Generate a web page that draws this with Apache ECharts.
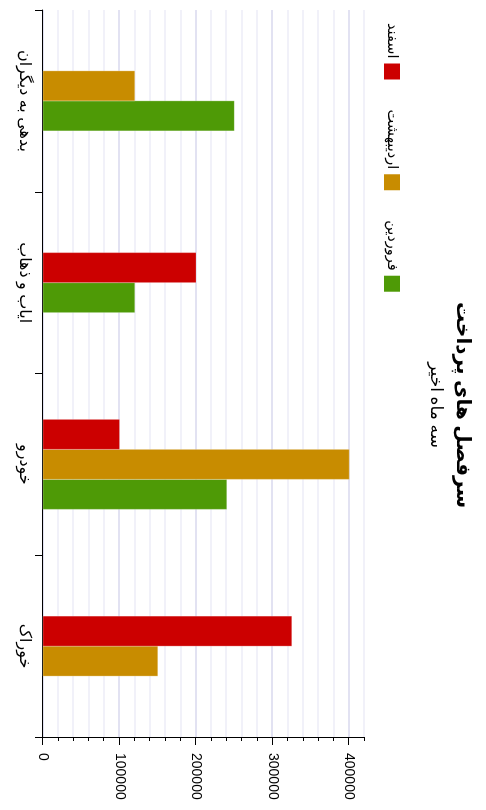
<!DOCTYPE html>
<html>
<head>
<meta charset="utf-8">
<script src="https://cdn.jsdelivr.net/npm/echarts@6/dist/echarts.min.js"></script>
<style>
html,body{margin:0;padding:0;background:#fff;overflow:hidden;width:486px;height:810px;}
#wrap{position:absolute;left:0;top:0;width:810px;height:486px;transform-origin:0 0;transform:translate(486px,0) rotate(90deg);}
#chart{width:810px;height:486px;}
</style>
</head>
<body>
<div id="wrap"><div id="chart"></div></div>
<script>
// ---- data ----
var categories = ['خوراک', 'خودرو', 'ایاب و ذهاب', 'بدهی به دیگران'];
var seriesNames = ['فروردین', 'اردیبهشت', 'اسفند'];
var farvardin   = [null, 240000, 120000, 250000];
var ordibehesht = [150000, 400000, null, 120000];
var esfand      = [325000, 100000, 200000, null];
var valueTicks  = [0, 100000, 200000, 300000, 400000];
var titleText = 'سرفصل های پرداخت';
var subtitleText = 'سه ماه اخیر';
// ------------------

var seriesValues = { 'فروردین': farvardin, 'اردیبهشت': ordibehesht, 'اسفند': esfand };
var seriesColors = { 'فروردین': '#4e9a06', 'اردیبهشت': '#c88c00', 'اسفند': '#cc0000' };
// left-to-right pixel order inside a category group
var slotOrder = ['اسفند', 'اردیبهشت', 'فروردین'];
var FONT = "'Liberation Sans', 'DejaVu Sans', sans-serif";

function makeRender(name) {
  return function (params, api) {
    var ci = api.value(0), val = api.value(1);
    var present = slotOrder.filter(function (s) { var v = seriesValues[s][ci]; return v != null && v > 0; });
    var k = present.indexOf(name);
    var catW = api.size([1, 0])[0];
    var bw = catW * 0.165;
    var center = api.coord([ci, 0])[0];
    var start = center - present.length * bw / 2;
    var base = api.coord([ci, 0])[1];
    var top = api.coord([ci, val])[1];
    return {
      type: 'rect',
      shape: { x: start + k * bw, y: top, width: bw, height: base - top },
      style: { fill: seriesColors[name], stroke: 'rgba(255,255,255,0.25)', lineWidth: 1 }
    };
  };
}

var series = seriesNames.map(function (name) {
  var data = [];
  seriesValues[name].forEach(function (v, i) { if (v != null) data.push([i, v]); });
  return {
    type: 'custom',
    name: name,
    xAxisIndex: 0,
    yAxisIndex: 0,
    itemStyle: { color: seriesColors[name] },
    encode: { x: 0, y: 1 },
    renderItem: makeRender(name),
    data: data
  };
});

var chart = echarts.init(document.getElementById('chart'));
chart.setOption({
  animation: false,
  backgroundColor: '#fff',
  textStyle: { fontFamily: FONT },
  title: {
    text: titleText,
    subtext: subtitleText,
    left: 'center',
    top: 8,
    itemGap: 9,
    textStyle: { fontSize: 20, fontWeight: 'bold', color: '#000', fontFamily: FONT },
    subtextStyle: { fontSize: 17, color: '#000', fontFamily: FONT }
  },
  legend: {
    data: ['اسفند', 'اردیبهشت', 'فروردین'],
    left: 18,
    top: 81,
    align: 'right',
    icon: 'rect',
    itemWidth: 16,
    itemHeight: 16,
    itemGap: 30,
    textStyle: { fontSize: 14.5, color: '#000', fontFamily: FONT }
  },
  grid: { left: 10, right: 73, top: 121.5, bottom: 43, containLabel: false },
  xAxis: {
    type: 'category',
    data: categories,
    inverse: true,
    axisLine: { lineStyle: { color: '#000', width: 1 } },
    axisTick: { show: true, length: 8, alignWithLabel: false, lineStyle: { color: '#000' } },
    axisLabel: { margin: 11, fontSize: 16, color: '#000', fontFamily: FONT, interval: 0 },
    splitLine: { show: false }
  },
  yAxis: [
    {
      type: 'value',
      position: 'right',
      min: 0,
      max: 420000,
      interval: 20000,
      axisLine: { show: true, lineStyle: { color: '#000', width: 1 } },
      axisTick: { show: true, length: 4, lineStyle: { color: '#000' } },
      axisLabel: {
        margin: 16, fontSize: 14, color: '#000', fontFamily: FONT,
        formatter: function (v) { return valueTicks.indexOf(v) >= 0 ? String(v) : ''; }
      },
      splitLine: { show: true, lineStyle: { color: '#ececf7', width: 1.5 } }
    },
    {
      type: 'value',
      position: 'right',
      min: 0,
      max: 420000,
      interval: 100000,
      axisLine: { show: false },
      axisTick: { show: true, length: 8, customValues: valueTicks, lineStyle: { color: '#000' } },
      axisLabel: { show: false },
      splitLine: { show: true, lineStyle: { color: '#dcdcef', width: 1.5 } }
    }
  ],
  series: series
});
</script>
</body>
</html>
